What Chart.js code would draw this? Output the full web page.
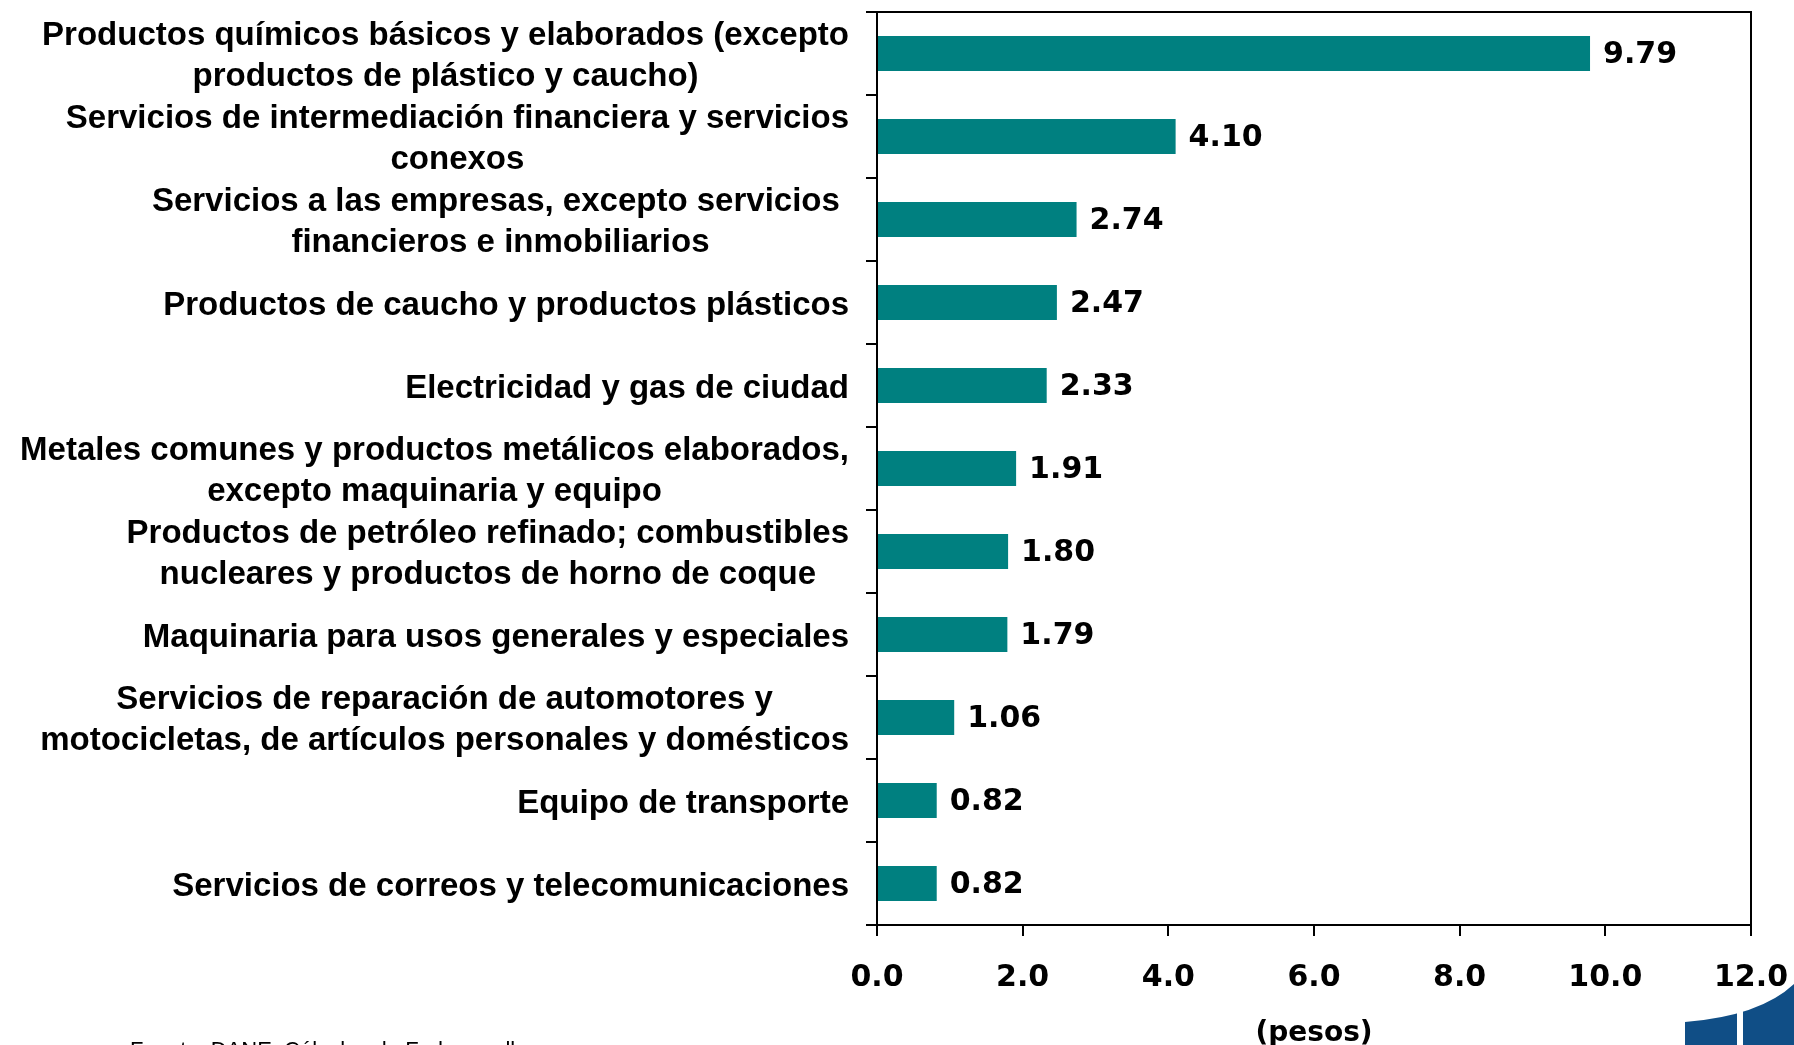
<!DOCTYPE html>
<html>
<head>
<meta charset="utf-8">
<script src="https://cdn.jsdelivr.net/npm/chart.js@4.4.1/dist/chart.umd.min.js"></script>
<style>
  html, body { margin: 0; padding: 0; background: #fff; }
  #chart { display: block; }
</style>
</head>
<body>
<canvas id="chart" width="1794" height="1045"></canvas>
<script>
// ── Data ──────────────────────────────────────────────────────────────────
const categories = [
  ['Productos químicos básicos y elaborados (excepto', 'productos de plástico y caucho)'],
  ['Servicios de intermediación financiera y servicios', 'conexos'],
  ['Servicios a las empresas, excepto servicios ', 'financieros e inmobiliarios'],
  'Productos de caucho y productos plásticos',
  'Electricidad y gas de ciudad',
  ['Metales comunes y productos metálicos elaborados,', 'excepto maquinaria y equipo'],
  ['Productos de petróleo refinado; combustibles', 'nucleares y productos de horno de coque'],
  'Maquinaria para usos generales y especiales',
  ['Servicios de reparación de automotores y', 'motocicletas, de artículos personales y domésticos'],
  'Equipo de transporte',
  'Servicios de correos y telecomunicaciones'
]
const values = [9.79, 4.10, 2.74, 2.47, 2.33, 1.91, 1.80, 1.79, 1.06, 0.82, 0.82]
const xTicks = [0, 2, 4, 6, 8, 10, 12]
const xTitle = '(pesos)'
const source = 'Fuente: DANE, Cálculos de Fedesarrollo'

const TEAL = '#008080'
const LABEL_FONT = 'bold 33px "Liberation Sans", Arial, sans-serif'
const NUM_FONT = 'bold 30px "DejaVu Sans", Verdana, sans-serif'

// ── Plugins ───────────────────────────────────────────────────────────────
// category labels: each block right-aligned, its lines centred on each other
const categoryLabels = {
  id: 'categoryLabels',
  afterDraw(chart) {
    const { ctx, chartArea, scales } = chart
    ctx.save()
    ctx.font = LABEL_FONT
    ctx.fillStyle = '#000'
    ctx.textAlign = 'center'
    ctx.textBaseline = 'middle'
    categories.forEach((c, i) => {
      const lines = Array.isArray(c) ? c : [c]
      const maxW = Math.max(...lines.map(l => ctx.measureText(l).width))
      const cx = chartArea.left - 28 - maxW / 2
      const cy = scales.y.getPixelForValue(i)
      lines.forEach((l, k) => {
        ctx.fillText(l, cx, cy + (k - (lines.length - 1) / 2) * 41 + 3)
      })
    })
    ctx.restore()
  }
}

// value labels at the end of every bar
const valueLabels = {
  id: 'valueLabels',
  afterDatasetsDraw(chart) {
    const { ctx } = chart
    const meta = chart.getDatasetMeta(0)
    ctx.save()
    ctx.font = NUM_FONT
    ctx.fillStyle = '#000'
    ctx.textAlign = 'left'
    ctx.textBaseline = 'middle'
    meta.data.forEach((bar, i) => {
      ctx.fillText(values[i].toFixed(2), bar.x + 13, bar.y + 2)
    })
    ctx.restore()
  }
}

// plot frame, source line and the corner logo
const decorations = {
  id: 'decorations',
  afterDraw(chart) {
    const { ctx, chartArea: a } = chart
    ctx.save()
    ctx.strokeStyle = '#000'
    ctx.lineWidth = 2
    ctx.strokeRect(a.left, a.top, a.right - a.left, a.bottom - a.top)

    ctx.font = '22px "Liberation Sans", Arial, sans-serif'
    ctx.fillStyle = '#000'
    ctx.textAlign = 'left'
    ctx.textBaseline = 'top'
    ctx.fillText(source, 130, 1040)

    ctx.fillStyle = '#104e86'
    ctx.beginPath()
    ctx.moveTo(1685, 1045)
    ctx.lineTo(1685, 1022)
    ctx.quadraticCurveTo(1760, 1016, 1794, 984)
    ctx.lineTo(1794, 1045)
    ctx.closePath()
    ctx.fill()
    ctx.fillStyle = '#fff'
    ctx.fillRect(1737, 1000, 6, 45)
    ctx.restore()
  }
}

// ── Chart ─────────────────────────────────────────────────────────────────
new Chart(document.getElementById('chart'), {
  type: 'bar',
  data: {
    labels: categories,
    datasets: [{
      data: values,
      backgroundColor: TEAL,
      borderWidth: 0,
      barPercentage: 0.42,
      categoryPercentage: 1
    }]
  },
  options: {
    indexAxis: 'y',
    responsive: false,
    animation: false,
    devicePixelRatio: 1,
    layout: { padding: { top: 12, right: 43, left: 0, bottom: 0 } },
    plugins: { legend: { display: false }, tooltip: { enabled: false } },
    scales: {
      x: {
        min: xTicks[0],
        max: xTicks[xTicks.length - 1],
        ticks: {
          stepSize: xTicks[1] - xTicks[0],
          autoSkip: false,
          maxRotation: 0,
          padding: 24,
          color: '#000',
          font: { family: 'DejaVu Sans', weight: 'bold', size: 30 },
          callback: v => Number(v).toFixed(1)
        },
        grid: { drawOnChartArea: false, tickLength: 11, color: '#000', lineWidth: 2 },
        border: { color: '#000', width: 2 },
        title: {
          display: true,
          text: xTitle,
          color: '#000',
          padding: 0,
          font: { family: 'DejaVu Sans', weight: 'bold', size: 28, lineHeight: 0.8 }
        },
        afterFit: s => {
          s.height = 120
          s.paddingLeft = 0
          s.paddingRight = 0
        }
      },
      y: {
        ticks: { display: false },
        grid: { drawOnChartArea: false, offset: true, tickLength: 11, color: '#000', lineWidth: 2 },
        border: { color: '#000', width: 2 },
        afterFit: s => { s.width = 877 }
      }
    }
  },
  plugins: [categoryLabels, valueLabels, decorations]
})
</script>
</body>
</html>
